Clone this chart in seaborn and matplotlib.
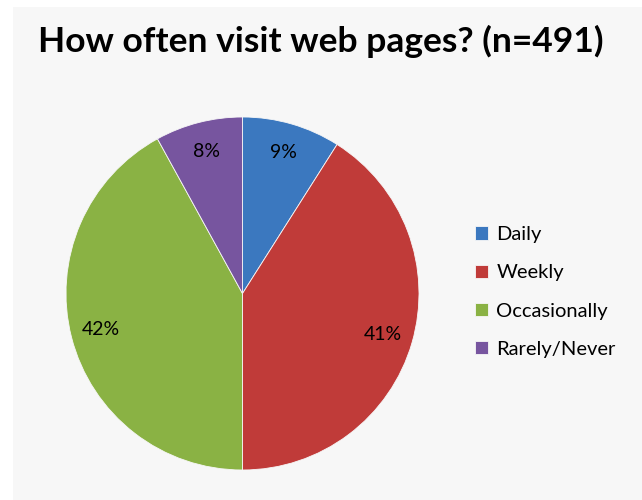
import matplotlib
matplotlib.use("Agg")
import matplotlib.pyplot as plt
import seaborn as sns
from matplotlib.patches import Rectangle

categories = ["Daily", "Weekly", "Occasionally", "Rarely/Never"]
shares = [9, 41, 42, 8]
title = "How often visit web pages? (n=491)"

sns.set_theme(style="white")
plt.rcParams['font.family'] = ['Lato', 'DejaVu Sans']
colors = sns.color_palette(["#3b78bf", "#c03b39", "#8ab244", "#77559f"])

fig = plt.figure(figsize=(6.42, 5.0), dpi=100)
fig.patch.set_facecolor("white")
# light gray chart area, offset like the screenshot
fig.patches.append(Rectangle((13 / 642, 0), 1, 493 / 500, transform=fig.transFigure,
                             facecolor="#f7f7f7", edgecolor="none", zorder=-5))

ax = fig.add_axes([65 / 642, 30 / 500, 355 / 642, 353 / 500])
ax.set_facecolor("none")
wedges, texts, autotexts = ax.pie(
    shares, colors=colors, startangle=90, counterclock=False,
    autopct="%d%%", pctdistance=0.83,
    wedgeprops=dict(edgecolor="#f7f7f7", linewidth=0.6),
    textprops=dict(fontsize=14, color="black"),
)
ax.set_xlim(-1.0, 1.0)
ax.set_ylim(-1.0, 1.0)
ax.set_aspect("equal")

fig.text(0.5, 0.918, title, ha="center", va="center", fontsize=25.5,
         fontweight="bold", color="black")

leg = fig.legend(wedges, categories, loc="center left",
                 bbox_to_anchor=(457 / 642, (500 - 292) / 500),
                 frameon=False, fontsize=14.5, handlelength=0.65, handleheight=0.65,
                 labelspacing=1.05, handletextpad=0.4, labelcolor="black")

fig.savefig("out.png", dpi=100, facecolor=fig.get_facecolor())
